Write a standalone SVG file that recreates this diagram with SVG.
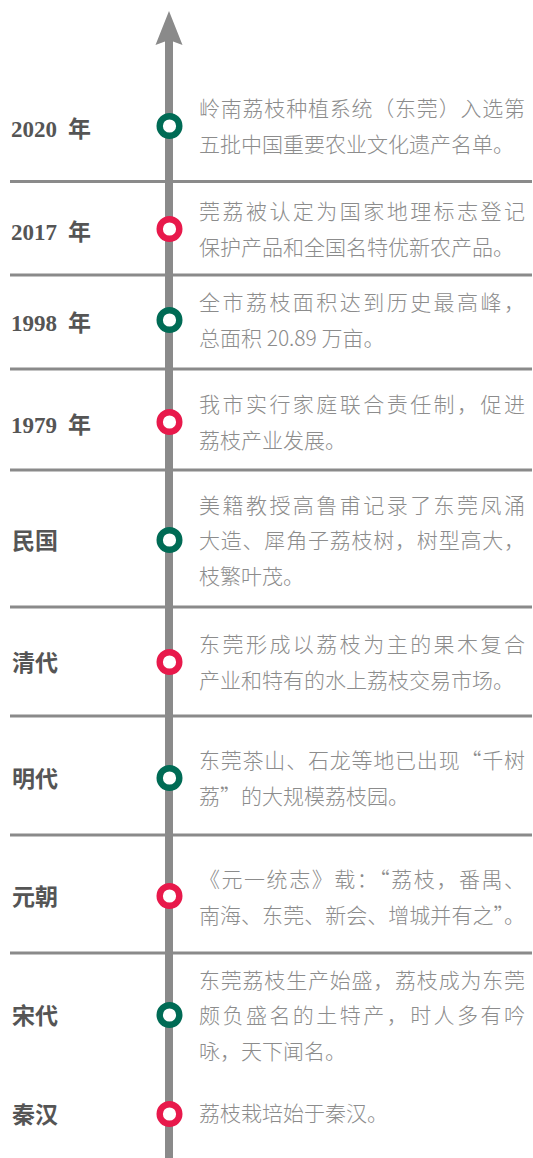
<svg xmlns="http://www.w3.org/2000/svg" width="533" height="1158" viewBox="0 0 533 1158">
<style>
.sep{stroke:#8a8a8a;stroke-width:3;fill:none}
.axis{stroke:#8a8a8a;stroke-width:8;fill:none}
.dg{fill:#fff;stroke:#006b55;stroke-width:6.4}
.dr{fill:#fff;stroke:#e8194b;stroke-width:6.4}
.lbl{font-family:"Liberation Serif","Noto Sans CJK SC",serif;font-weight:bold;font-size:23px;fill:#555}
.nian{font-family:"Noto Sans CJK SC",sans-serif;font-size:23px}
.lblc{font-family:"Noto Sans CJK SC",sans-serif;font-weight:bold;font-size:23px;fill:#555}
.d{font-family:"Noto Sans CJK SC","Noto Sans",sans-serif;font-weight:300;font-size:21px;fill:#8c8c8c}
</style>
<g id="connectors">
<line class="axis" x1="169" y1="40" x2="169" y2="1158"/>
<polygon points="169,11 182.5,45 169,40 155.5,45" fill="#8a8a8a"/>
<line class="sep" x1="10" y1="181.5" x2="532" y2="181.5"/>
<line class="sep" x1="10" y1="275" x2="532" y2="275"/>
<line class="sep" x1="10" y1="369" x2="532" y2="369"/>
<line class="sep" x1="10" y1="470" x2="532" y2="470"/>
<line class="sep" x1="10" y1="607" x2="532" y2="607"/>
<line class="sep" x1="10" y1="716" x2="532" y2="716"/>
<line class="sep" x1="10" y1="835" x2="532" y2="835"/>
<line class="sep" x1="10" y1="953" x2="532" y2="953"/>
</g>
<g id="n2020">
<text class="lbl" x="11" y="137">2020<tspan class="nian" x="68">年</tspan></text>
<circle class="dg" cx="169.5" cy="126" r="9.8"/>
<text class="d" x="199" y="116" textLength="326" lengthAdjust="spacing">岭南荔枝种植系统（东莞）入选第</text>
<text class="d" x="199" y="152">五批中国重要农业文化遗产名单。</text>
</g>
<g id="n2017">
<text class="lbl" x="11" y="240">2017<tspan class="nian" x="68">年</tspan></text>
<circle class="dr" cx="169.5" cy="229" r="9.8"/>
<text class="d" x="199" y="219" textLength="326" lengthAdjust="spacing">莞荔被认定为国家地理标志登记</text>
<text class="d" x="199" y="255">保护产品和全国名特优新农产品。</text>
</g>
<g id="n1998">
<text class="lbl" x="11" y="331">1998<tspan class="nian" x="68">年</tspan></text>
<circle class="dg" cx="169.5" cy="320" r="9.8"/>
<text class="d" x="199" y="310" textLength="326" lengthAdjust="spacing">全市荔枝面积达到历史最高峰，</text>
<text class="d" x="199" y="346">总面积 20.89 万亩。</text>
</g>
<g id="n1979">
<text class="lbl" x="11" y="433">1979<tspan class="nian" x="68">年</tspan></text>
<circle class="dr" cx="169.5" cy="422" r="9.8"/>
<text class="d" x="199" y="412" textLength="326" lengthAdjust="spacing">我市实行家庭联合责任制，促进</text>
<text class="d" x="199" y="448">荔枝产业发展。</text>
</g>
<g id="nminguo">
<text class="lblc" x="12" y="549">民国</text>
<circle class="dg" cx="169.5" cy="540" r="9.8"/>
<text class="d" x="199" y="512.5" textLength="326" lengthAdjust="spacing">美籍教授高鲁甫记录了东莞凤涌</text>
<text class="d" x="199" y="548" textLength="326" lengthAdjust="spacing">大造、犀角子荔枝树，树型高大，</text>
<text class="d" x="199" y="583.5">枝繁叶茂。</text>
</g>
<g id="nqing">
<text class="lblc" x="12" y="671">清代</text>
<circle class="dr" cx="169.5" cy="662" r="9.8"/>
<text class="d" x="199" y="652" textLength="326" lengthAdjust="spacing">东莞形成以荔枝为主的果木复合</text>
<text class="d" x="199" y="688">产业和特有的水上荔枝交易市场。</text>
</g>
<g id="nming">
<text class="lblc" x="12" y="787">明代</text>
<circle class="dg" cx="169.5" cy="778" r="9.8"/>
<text class="d" x="199" y="768" textLength="326" lengthAdjust="spacing">东莞茶山、石龙等地已出现“千树</text>
<text class="d" x="199" y="804">荔”的大规模荔枝园。</text>
</g>
<g id="nyuan">
<text class="lblc" x="12" y="905">元朝</text>
<circle class="dr" cx="169.5" cy="896" r="9.8"/>
<text class="d" x="199" y="887" textLength="326" lengthAdjust="spacing">《元一统志》载：“荔枝，番禺、</text>
<text class="d" x="199" y="923" textLength="326" lengthAdjust="spacing">南海、东莞、新会、增城并有之”。</text>
</g>
<g id="nsong">
<text class="lblc" x="12" y="1024">宋代</text>
<circle class="dg" cx="169.5" cy="1015" r="9.8"/>
<text class="d" x="199" y="988" textLength="326" lengthAdjust="spacing">东莞荔枝生产始盛，荔枝成为东莞</text>
<text class="d" x="199" y="1023" textLength="326" lengthAdjust="spacing">颇负盛名的土特产，时人多有吟</text>
<text class="d" x="199" y="1058.5">咏，天下闻名。</text>
</g>
<g id="nqinhan">
<text class="lblc" x="12" y="1123">秦汉</text>
<circle class="dr" cx="169.5" cy="1114" r="9.8"/>
<text class="d" x="199" y="1121">荔枝栽培始于秦汉。</text>
</g>
</svg>
